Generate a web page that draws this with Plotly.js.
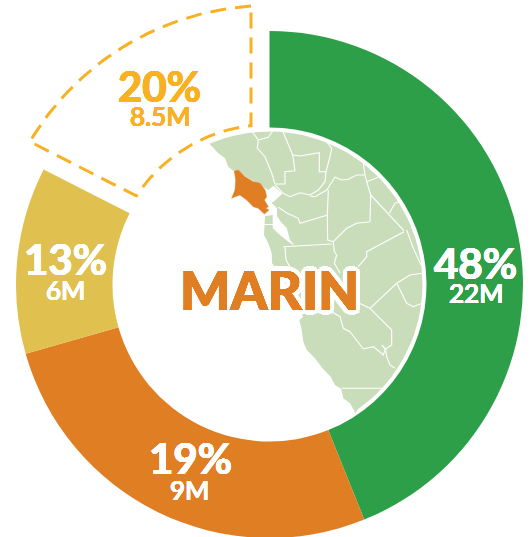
<!DOCTYPE html>
<html><head><meta charset="utf-8">
<script src="https://cdn.plot.ly/plotly-3.0.1.min.js"></script>
<style>html,body{margin:0;padding:0;background:#fff;overflow:hidden}#c{width:532px;height:545px}</style>
</head><body><div id="c"></div>
<script>
const sliceNames = ['Green share', 'Orange share', 'Yellow share', 'Dashed share'];
const sliceShares = [43.9, 26.7, 11.9, 17.5];
const sliceColors = ['#2e9f49', '#e07e24', '#e0c04f', 'rgba(0,0,0,0)'];
const percentLabels = ['48%', '19%', '13%', '20%'];
const amountLabels = ['22M', '9M', '6M', '8.5M'];
const percentX = [475, 190, 65.5, 159];
const percentY = [263, 458, 259, 85.5];
const amountX = [476, 189, 65, 160];
const amountY = [293, 490, 290, 116];
const labelColors = ['#ffffff', '#ffffff', '#ffffff', '#f8b122'];
const regionName = 'MARIN';

// Map outlines
const coast = [[355.7,413.3],[350,403.3],[343.3,398.3],[341,388.7],[335,385],[330.7,376.7],[323.3,369.3],[315,358.3],[306.7,350],[303.3,341.7],[301.7,330],[299.3,320],[301.7,318],[303,316.7],[296,300],[272,263],[271.7,253.3],[268.3,243.3],[264,235],[264.3,225],[265,216],[272.7,215],[272.7,228],[280,235],[288,241.5],[295,246],[290,240],[286.7,228],[281,222],[277,216],[277,208],[271.5,203],[275.7,200],[282.3,193.5],[273.3,186],[268.3,190],[262,186],[245,176],[238,170],[233.3,170.7],[228.3,166.7],[225,158.3],[218.3,153.3],[209,143.3]];
const marinOutline = [[234.3,171],[238.3,170],[245,176.7],[253.3,181.7],[260,183.3],[265,190],[266.7,196.7],[264.3,200],[268.3,206.7],[265.7,208.3],[269,210],[264.3,214],[258.3,208.3],[253.3,206.7],[246.7,200],[240,195],[235,196.7],[231.7,198.3],[235,190],[235.7,180]];
const countyLines = [
 [[251.7,131],[258.3,140],[257.3,148.3],[265,156.7],[271.7,173.3],[275,184]],
 [[272.7,131],[268.3,137.3],[258.3,140]],
 [[282.7,131],[288.3,145],[292.7,155],[295,170.7],[285,171.7],[285,184],[275,184]],
 [[292.7,155],[300,156],[319.3,152.7],[319.3,171.7],[326,171.7]],
 [[326.7,141.7],[331.7,148.3],[330,156.7],[326,171.7],[325,181.7],[318.3,190],[310,195],[300,192.7],[290,196.7],[283.3,193.3],[275,185]],
 [[310,196],[315,196.7],[326.7,190],[335,177.3],[341.7,180],[348.3,179.3],[356.7,175],[365,175],[366.7,181.7],[370.7,195]],
 [[363.3,163.3],[365,175]],
 [[366.7,181.7],[378.3,177.3]],
 [[328.3,190],[327.3,216.7],[327.7,240],[333.3,241.7]],
 [[327.7,215],[300,223.3],[298.3,218.3],[287.3,213.3],[278.3,207.3]],
 [[370.7,195],[370,221.7],[356.7,223.3],[346.7,228.3],[333.3,241.7]],
 [[370.7,195],[404,230.7]],
 [[389.3,213.3],[395,203.3],[400,201.7]],
 [[404,231.7],[366.7,251.7],[366.7,256.7],[358.3,266.7]],
 [[333.3,241.7],[334.3,251.7],[336.7,255],[334.3,263.3],[340,273]],
 [[283.3,246.7],[293.3,246],[331.7,244]],
 [[285,246.7],[286,260],[290,266.7]],
 [[406.7,230],[413.3,248.3],[421,265]],
 [[422,273.3],[410,275],[396.7,283.3],[370,308.3],[358.3,302.7]],
 [[396.7,283.3],[401.7,293.3],[406.7,303.3],[413.3,306.7],[422,303.3]],
 [[370,308.3],[391.7,330],[391.7,345],[385.5,349],[386.7,356.7],[390,365],[395,368.3]],
 [[331.7,311.7],[340,316.7],[343.3,328.3],[350,331.7],[363.3,349],[373.3,346.7],[383.3,355],[385.5,349],[381.7,345]],
 [[341.7,388.3],[381.7,388.3]],
 [[264.5,224.5],[273,224.5]]
];

const W = 532, H = 545;
const cx = 269.5, cy = 284.5, rOuter = 253.5, rInner = 157, rLand = 153;
const rad = d => d * Math.PI / 180;
const polar = (r, deg) => [cx + r * Math.sin(rad(deg)), cy - r * Math.cos(rad(deg))];

// Land: coastline closed along the circle
const landArc = [];
for (let a = -23.2; a <= 146.3; a += 3) landArc.push(polar(rLand, a));
const land = landArc.concat(coast);

// Dashed outline of the pulled slice, derived from the slice shares
const shareTotal = sliceShares.reduce((a, b) => a + b, 0);
const dashStart = 360 * (1 - sliceShares[3] / shareTotal);
const gap = 18.5, dOuter = 279, dInner = 160;
function dashedWedge() {
  const pts = [];
  const offA = r => Math.asin(gap / r) * 180 / Math.PI;
  const a0O = 360 - offA(dOuter), a1O = dashStart + offA(dOuter);
  const a0I = 360 - offA(dInner), a1I = dashStart + offA(dInner);
  for (let i = 0; i <= 40; i++) pts.push(polar(dOuter, a0O + (a1O - a0O) * i / 40));
  for (let i = 0; i <= 30; i++) pts.push(polar(dInner, a1I + (a0I - a1I) * i / 30));
  pts.push(pts[0]);
  return pts;
}
const wedge = dashedWedge();

const xs = p => p.map(q => q[0]), ys = p => p.map(q => q[1]);
const lineX = [], lineY = [];
countyLines.forEach(l => { l.forEach(q => { lineX.push(q[0]); lineY.push(q[1]); }); lineX.push(null); lineY.push(null); });

const traces = [
  {type:'scatter', mode:'lines', x:xs(land), y:ys(land), fill:'toself', fillcolor:'#c9ddbb', line:{width:0, color:'#c9ddbb'}, hoverinfo:'skip'},
  {type:'scatter', mode:'lines', x:lineX, y:lineY, line:{width:1.1, color:'#ffffff'}, hoverinfo:'skip', connectgaps:false},
  {type:'scatter', mode:'lines', x:xs(marinOutline).concat(marinOutline[0][0]), y:ys(marinOutline).concat(marinOutline[0][1]), fill:'toself', fillcolor:'#e07e24', line:{width:0.5, color:'#e07e24'}, hoverinfo:'skip'},
  {type:'scatter', mode:'lines', x:xs(wedge), y:ys(wedge), line:{width:3, color:'#f8b122', dash:'16px,9px'}, hoverinfo:'skip'},
  {type:'pie', labels:sliceNames, values:sliceShares, sort:false, direction:'clockwise', rotation:0,
   hole:rInner / rOuter, textinfo:'none', hoverinfo:'skip',
   marker:{colors:sliceColors, line:{width:0}},
   domain:{x:[(cx - rOuter) / W, (cx + rOuter) / W], y:[(H - cy - rOuter) / H, (H - cy + rOuter) / H]}}
];

function ring(radius, color, blur) {
  const out = [];
  for (let a = 0; a < 360; a += 30) {
    out.push((radius * Math.cos(rad(a))).toFixed(2) + 'px ' + (radius * Math.sin(rad(a))).toFixed(2) + 'px ' + blur + ' ' + color);
  }
  return out;
}

const ann = [];
const FONT = 'Lato, sans-serif';
percentLabels.forEach((t, i) => {
  ann.push({x:percentX[i], y:percentY[i], text:t, showarrow:false, xanchor:'center', yanchor:'middle',
    font:{family:FONT, size:42, weight:700, color:labelColors[i], shadow:ring(0.3, labelColors[i], '0').join(',')}});
  ann.push({x:amountX[i], y:amountY[i], text:amountLabels[i], showarrow:false, xanchor:'center', yanchor:'middle',
    font:{family:FONT, size:26, weight:500, color:labelColors[i], shadow:ring(0.25, labelColors[i], '0').join(',')}});
});
const halo = ring(0.4, '#e07e24', '0').concat(ring(5, '#fff', '0'));
ann.push({x:269.5, y:289, text:regionName, showarrow:false, xanchor:'center', yanchor:'middle',
  font:{family:FONT, size:53, weight:900, color:'#e07e24', shadow:halo.join(',')}});

Plotly.newPlot('c', traces, {
  width:W, height:H, margin:{l:0,r:0,t:0,b:0,pad:0}, showlegend:false,
  paper_bgcolor:'#fff', plot_bgcolor:'#fff',
  xaxis:{range:[0,W], visible:false, fixedrange:true},
  yaxis:{range:[H,0], visible:false, fixedrange:true},
  annotations:ann
}, {displayModeBar:false, staticPlot:true});
</script></body></html>
